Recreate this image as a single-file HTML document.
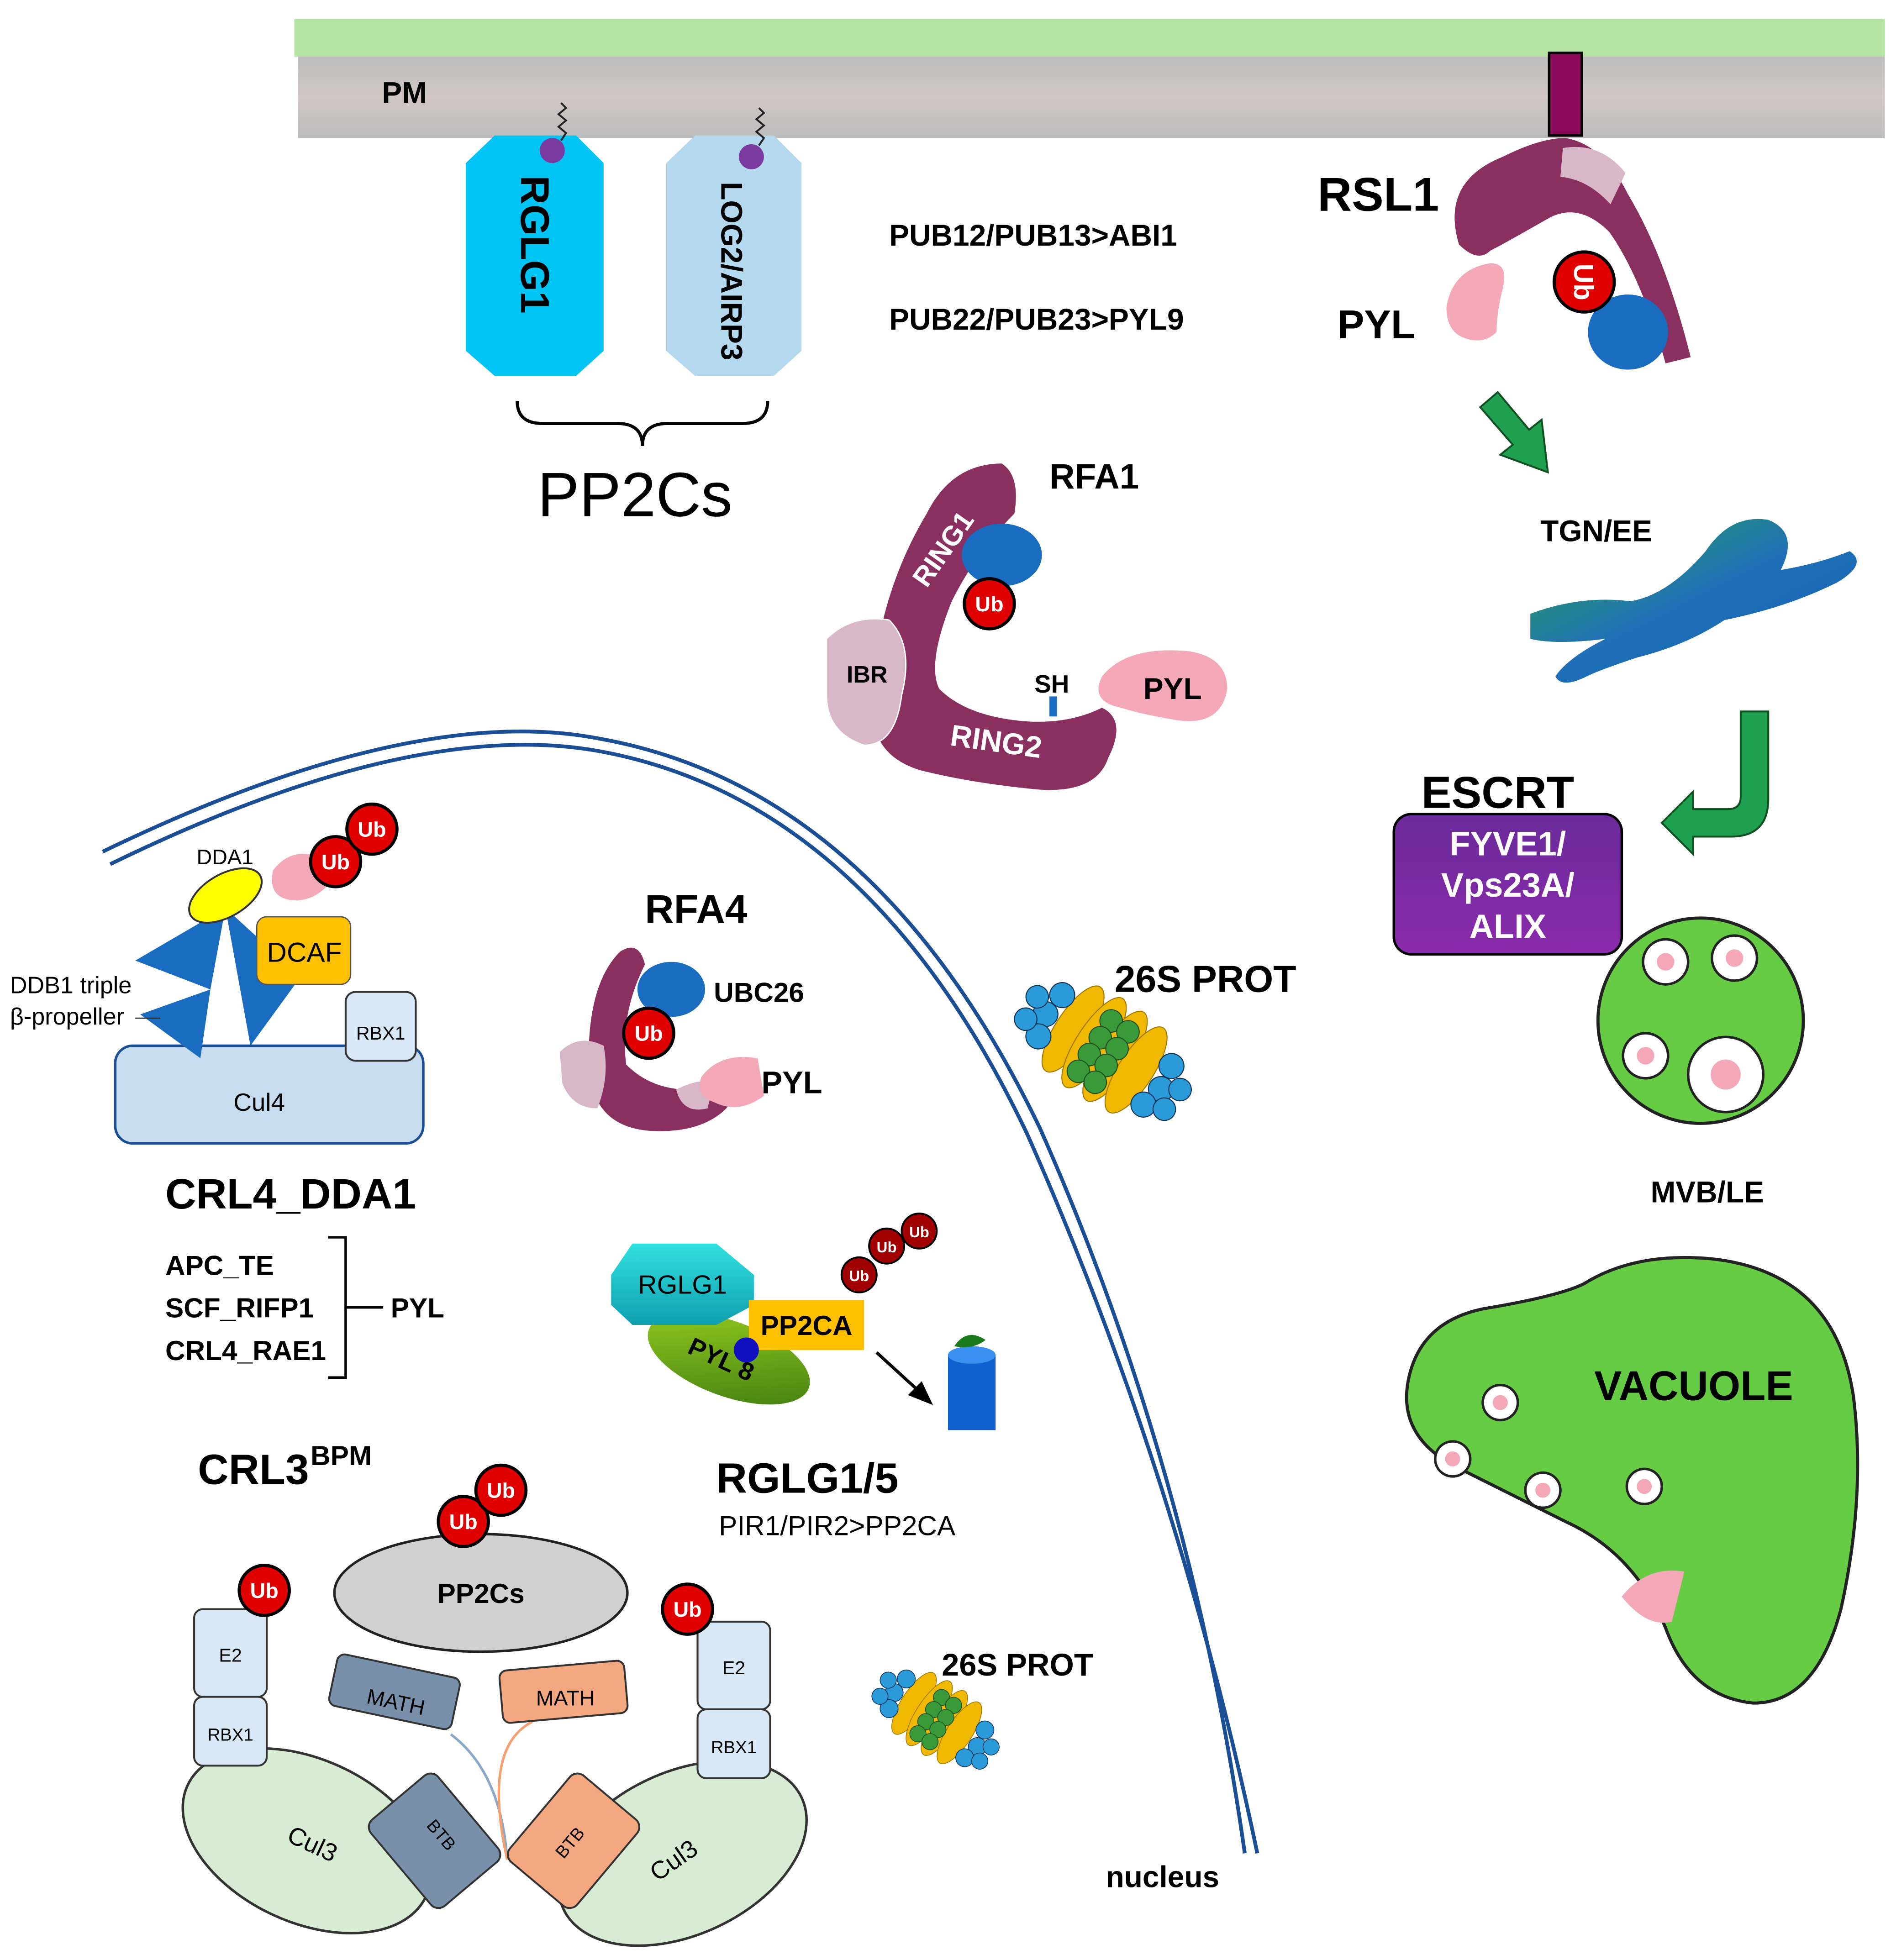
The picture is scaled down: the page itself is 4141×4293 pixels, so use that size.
<!DOCTYPE html>
<html><head><meta charset="utf-8"><style>
html,body{margin:0;padding:0;background:#fff}
svg{display:block}
text{font-family:"Liberation Sans",sans-serif}
</style></head><body>
<svg width="4141" height="4293" viewBox="0 0 1510 1565" xmlns="http://www.w3.org/2000/svg">
<defs>
<linearGradient id="gm" x1="0" y1="0" x2="0" y2="1"><stop offset="0" stop-color="#bdbdbd"/><stop offset="0.5" stop-color="#d2c6c6"/><stop offset="1" stop-color="#bcbcbc"/></linearGradient>
<linearGradient id="gg" x1="0" y1="0" x2="1" y2="1"><stop offset="0" stop-color="#2aa84a"/><stop offset="0.5" stop-color="#1f6fb8"/><stop offset="1" stop-color="#1560b0"/></linearGradient>
<linearGradient id="pyl8" x1="0" y1="0" x2="1" y2="1"><stop offset="0" stop-color="#9bd020"/><stop offset="1" stop-color="#3c7a10"/></linearGradient>
<linearGradient id="rg" x1="0" y1="0" x2="0" y2="1"><stop offset="0" stop-color="#30e0e0"/><stop offset="1" stop-color="#10a0b0"/></linearGradient>
<linearGradient id="esc" x1="0" y1="0" x2="0" y2="1"><stop offset="0" stop-color="#6a2a9a"/><stop offset="1" stop-color="#8a2aaa"/></linearGradient>
<g id="ub"><circle r="20" fill="#e00000" stroke="#000" stroke-width="2.5"/><text y="6" text-anchor="middle" font-size="17" font-weight="bold" fill="#fff">Ub</text></g>
<g id="ubd"><circle r="14" fill="#a00000" stroke="#000" stroke-width="1.5"/><text y="5" text-anchor="middle" font-size="12" font-weight="bold" fill="#fff">Ub</text></g>
<g id="prot">
<g fill="#f0b800" stroke="#a07800" stroke-width="0.8"><ellipse cx="-30" cy="0" rx="14" ry="40"/><ellipse cx="-10" cy="0" rx="14" ry="42"/><ellipse cx="10" cy="0" rx="14" ry="42"/><ellipse cx="30" cy="0" rx="14" ry="40"/></g>
<g fill="#3a9a3a" stroke="#205020" stroke-width="0.8"><circle cx="-8" cy="-22" r="9"/><circle cx="8" cy="-22" r="9"/><circle cx="-8" cy="-6" r="9"/><circle cx="8" cy="-6" r="9"/><circle cx="-8" cy="10" r="9"/><circle cx="8" cy="10" r="9"/><circle cx="-8" cy="26" r="9"/><circle cx="8" cy="26" r="9"/></g>
<g fill="#2a9ad8" stroke="#135" stroke-width="0.8"><circle cx="-52" cy="-18" r="10"/><circle cx="-55" cy="2" r="10"/><circle cx="-50" cy="20" r="10"/><circle cx="-68" cy="-6" r="9"/><circle cx="-66" cy="14" r="9"/><circle cx="52" cy="-18" r="10"/><circle cx="55" cy="2" r="10"/><circle cx="50" cy="20" r="10"/><circle cx="68" cy="-6" r="9"/><circle cx="66" cy="14" r="9"/></g>
</g>
</defs>

<rect x="235" y="15" width="1270" height="30" fill="#b5e3a4"/>
<rect x="238" y="45" width="1267" height="65" fill="url(#gm)"/>
<text x="305" y="82" font-size="24" font-weight="bold">PM</text>

<polygon points="395,108 460,108 482,130 482,280 460,300 395,300 372,280 372,130" fill="#00c4f4"/>
<polygon points="555,108 618,108 640,130 640,280 618,300 555,300 532,280 532,130" fill="#b4d8ee"/>
<text transform="translate(416,140) rotate(90)" font-size="32" font-weight="bold">RGLG1</text>
<text transform="translate(576,145) rotate(90)" font-size="24" font-weight="bold">LOG2/AIRP3</text>
<path d="M448,112 l4,-6 l-6,-5 l6,-5 l-6,-5 l6,-5 l-4,-4" fill="none" stroke="#222" stroke-width="1.5"/>
<path d="M606,116 l4,-6 l-6,-5 l6,-5 l-6,-5 l6,-5 l-4,-4" fill="none" stroke="#222" stroke-width="1.5"/>
<circle cx="441" cy="120" r="10" fill="#7a3aa0"/>
<circle cx="600" cy="125" r="10" fill="#7a3aa0"/>
<path d="M413,320 q0,18 20,18 h60 q20,0 20,18 q0,-18 20,-18 h60 q20,0 20,-18" fill="none" stroke="#000" stroke-width="2.5"/>
<text x="507" y="412" text-anchor="middle" font-size="50">PP2Cs</text>

<text x="710" y="196" font-size="24" font-weight="bold">PUB12/PUB13&gt;ABI1</text>
<text x="710" y="263" font-size="24" font-weight="bold">PUB22/PUB23&gt;PYL9</text>

<rect x="1237" y="42" width="26" height="66" fill="#8b0a5a" stroke="#000" stroke-width="2"/>
<path d="M1165,195 q-15,-50 35,-70 q30,-15 50,-15 q30,5 50,45 q30,50 50,130 l-20,5 q-20,-70 -45,-105 q-25,-25 -50,-10 q-35,20 -45,25 q-10,10 -25,-5 z" fill="#8a3060"/>
<path d="M1248,118 q30,-5 50,20 l-12,25 q-18,-20 -40,-22 z" fill="#d8b8c8"/>
<text x="1052" y="168" font-size="38" font-weight="bold">RSL1</text>
<text x="1068" y="270" font-size="32" font-weight="bold">PYL</text>
<path d="M1155,245 q5,-30 35,-35 q15,0 10,20 q-5,20 -5,35 q-10,10 -25,5 q-15,-5 -15,-25 z" fill="#f4a8b8"/>
<ellipse cx="1300" cy="265" rx="32" ry="30" fill="#1a6cc0"/>
<g transform="translate(1265,225) rotate(90)"><circle r="24" fill="#e00000" stroke="#000" stroke-width="2.5"/><text y="8" text-anchor="middle" font-size="22" font-weight="bold" fill="#fff">Ub</text></g>

<path d="M1182,325 l14,-12 l25,30 l10,-8 l5,42 l-38,-14 l10,-8 z" fill="#1fa050" stroke="#105020" stroke-width="1.5"/>
<text x="1230" y="432" font-size="24" font-weight="bold">TGN/EE</text>
<path d="M1222,490 q40,-15 80,-10 q30,-5 60,-40 q20,-30 50,-25 q25,10 10,40 q30,-5 55,-15 q15,10 -10,25 q-40,20 -90,30 q-30,20 -70,30 q-30,10 -40,15 q-20,10 -25,0 q10,-15 40,-30 q-40,5 -60,0 z" fill="url(#gg)"/>
<path d="M1390,568 h22 v70 q0,30 -30,30 h-30 v14 l-25,-25 l25,-25 v14 h28 q10,0 10,-10 z" fill="#1fa050" stroke="#105020" stroke-width="1.5"/>

<text x="1135" y="645" font-size="36" font-weight="bold">ESCRT</text>
<rect x="1113" y="650" width="182" height="112" rx="14" fill="url(#esc)" stroke="#000" stroke-width="2"/>
<text x="1204" y="683" text-anchor="middle" font-size="27" font-weight="bold" fill="#fff">FYVE1/</text>
<text x="1204" y="716" text-anchor="middle" font-size="27" font-weight="bold" fill="#fff">Vps23A/</text>
<text x="1204" y="749" text-anchor="middle" font-size="27" font-weight="bold" fill="#fff">ALIX</text>

<circle cx="1358" cy="815" r="82" fill="#66cc44" stroke="#222" stroke-width="2.5"/>
<circle cx="1330" cy="768" r="18" fill="#fff" stroke="#222" stroke-width="2"/>
<circle cx="1385" cy="765" r="18" fill="#fff" stroke="#222" stroke-width="2"/>
<circle cx="1314" cy="843" r="18" fill="#fff" stroke="#222" stroke-width="2"/>
<circle cx="1378" cy="858" r="30" fill="#fff" stroke="#222" stroke-width="2"/>
<circle cx="1330" cy="768" r="7" fill="#f4a8b8"/><circle cx="1385" cy="765" r="7" fill="#f4a8b8"/><circle cx="1314" cy="843" r="7" fill="#f4a8b8"/><circle cx="1378" cy="858" r="12" fill="#f4a8b8"/>
<text x="1318" y="960" font-size="24" font-weight="bold">MVB/LE</text>

<path d="M1125,1100 q10,-45 60,-55 q60,-10 80,-20 q40,-25 100,-20 q100,10 115,110 q10,80 -10,170 q-20,75 -70,75 q-50,-5 -70,-60 q-25,-60 -80,-85 q-50,-25 -90,-45 q-45,-25 -35,-70 z" fill="#66cc44" stroke="#222" stroke-width="2.5"/>
<text x="1273" y="1118" font-size="33" font-weight="bold">VACUOLE</text>
<g fill="#fff" stroke="#222" stroke-width="2"><circle cx="1198" cy="1120" r="14"/><circle cx="1160" cy="1165" r="14"/><circle cx="1232" cy="1190" r="14"/><circle cx="1313" cy="1187" r="14"/></g>
<g fill="#f4a8b8"><circle cx="1198" cy="1120" r="6"/><circle cx="1160" cy="1165" r="6"/><circle cx="1232" cy="1190" r="6"/><circle cx="1313" cy="1187" r="6"/>
<path d="M1295,1275 q20,-25 50,-20 l-10,40 q-20,5 -40,-20 z"/></g>

<path d="M700,520 q10,-60 40,-110 q20,-40 60,-40 q15,10 10,40 q-30,30 -50,70 q-20,50 -10,70 q20,20 60,25 q40,5 70,-10 q20,10 5,40 q-10,30 -60,25 q-50,-5 -90,-15 q-50,-15 -35,-75 z" fill="#8a3060"/>
<path d="M660,510 q20,-20 50,-15 q20,20 10,60 q-5,40 -30,40 q-30,-10 -30,-40 z" fill="#d8b8c8" stroke="#fff" stroke-width="1"/>
<text x="676" y="545" font-size="19" font-weight="bold">IBR</text>
<text transform="translate(740,470) rotate(-55)" font-size="22" font-weight="bold" fill="#fff">RING1</text>
<text transform="translate(758,595) rotate(8)" font-size="24" font-weight="bold" fill="#fff">RING2</text>
<text x="826" y="553" font-size="20" font-weight="bold">SH</text>
<rect x="838" y="556" width="6" height="16" fill="#1a6cc0"/>
<ellipse cx="800" cy="443" rx="32" ry="25" fill="#1a6cc0"/>
<g transform="translate(790,482)"><use href="#ub"/></g>
<path d="M880,540 q20,-25 70,-20 q30,5 30,30 q-5,30 -40,25 q-30,-5 -45,-10 q-25,-5 -15,-25 z" fill="#f4a8b8"/>
<text x="913" y="558" font-size="24" font-weight="bold">PYL</text>
<text x="838" y="390" font-size="28" font-weight="bold">RFA1</text>

<path d="M82,680 Q330,560 480,590 Q700,630 830,900 Q950,1170 994,1480" fill="none" stroke="#1a4f96" stroke-width="3"/>
<path d="M88,690 Q330,572 480,600 Q694,640 820,905 Q940,1175 1004,1480" fill="none" stroke="#1a4f96" stroke-width="3"/>
<text x="883" y="1507" font-size="24" font-weight="bold">nucleus</text>

<rect x="92" y="835" width="246" height="78" rx="14" fill="#c8dcf0" stroke="#1a4f96" stroke-width="2"/>
<text x="207" y="887" text-anchor="middle" font-size="20">Cul4</text>
<rect x="276" y="792" width="56" height="55" rx="8" fill="#d8e8f6" stroke="#333" stroke-width="1.5"/>
<text x="304" y="830" text-anchor="middle" font-size="15">RBX1</text>
<polygon points="108,767 180,725 168,790" fill="#1a6cc0"/>
<polygon points="180,725 240,780 200,835" fill="#1a6cc0"/>
<polygon points="112,810 168,790 160,845" fill="#1a6cc0"/>
<ellipse cx="180" cy="715" rx="32" ry="17" transform="rotate(-30 180 715)" fill="#ffff00" stroke="#333" stroke-width="1.5"/>
<text x="157" y="690" font-size="17">DDA1</text>
<rect x="205" y="732" width="75" height="54" rx="8" fill="#ffc000" stroke="#555" stroke-width="1"/>
<text x="243" y="768" text-anchor="middle" font-size="22">DCAF</text>
<path d="M218,695 q15,-20 40,-10 l10,12 q-10,20 -30,22 q-25,0 -20,-24 z" fill="#f4a8b8"/>
<g transform="translate(268,688)"><use href="#ub"/></g>
<g transform="translate(297,662)"><use href="#ub"/></g>
<text x="8" y="793" font-size="19">DDB1 triple</text>
<text x="8" y="818" font-size="19">β-propeller</text>
<line x1="108" y1="813" x2="128" y2="813" stroke="#333" stroke-width="1"/>
<text x="132" y="965" font-size="34" font-weight="bold">CRL4_DDA1</text>
<text x="132" y="1018" font-size="22" font-weight="bold">APC_TE</text>
<text x="132" y="1052" font-size="22" font-weight="bold">SCF_RIFP1</text>
<text x="132" y="1086" font-size="22" font-weight="bold">CRL4_RAE1</text>
<path d="M262,988 h14 v112 h-14 M276,1044 h30" fill="none" stroke="#000" stroke-width="2"/>
<text x="312" y="1052" font-size="22" font-weight="bold">PYL</text>

<text x="515" y="737" font-size="32" font-weight="bold">RFA4</text>
<path d="M470,845 q0,-60 25,-85 q15,-10 20,10 q-20,40 -15,80 q20,20 50,20 q20,0 30,-10 q15,5 0,25 q-20,20 -60,18 q-50,-3 -50,-58 z" fill="#8a3060"/>
<path d="M447,840 q15,-15 35,-5 q5,25 -5,50 q-20,0 -28,-20 z" fill="#d8b8c8"/>
<path d="M540,870 q20,-10 30,-5 l-5,20 q-20,5 -25,-15 z" fill="#d8b8c8"/>
<ellipse cx="536" cy="790" rx="27" ry="22" fill="#1a6cc0"/>
<g transform="translate(518,825)"><use href="#ub"/></g>
<text x="570" y="800" font-size="22" font-weight="bold">UBC26</text>
<path d="M560,860 q15,-20 45,-15 l5,30 q-20,15 -40,5 q-15,-5 -10,-20 z" fill="#f4a8b8"/>
<text x="608" y="873" font-size="25" font-weight="bold">PYL</text>

<g transform="translate(882,838) rotate(33)"><use href="#prot"/></g>
<text x="890" y="792" font-size="30" font-weight="bold">26S PROT</text>

<ellipse cx="582" cy="1085" rx="68" ry="30" transform="rotate(20 582 1085)" fill="url(#pyl8)"/>
<polygon points="505,993 572,993 602,1018 602,1042 572,1058 505,1058 488,1042 488,1018" fill="url(#rg)"/>
<text x="545" y="1033" text-anchor="middle" font-size="21">RGLG1</text>
<rect x="598" y="1038" width="92" height="40" fill="#ffc000"/>
<text x="644" y="1066" text-anchor="middle" font-size="22" font-weight="bold">PP2CA</text>
<circle cx="596" cy="1078" r="10" fill="#1010c0"/>
<text transform="translate(548,1080) rotate(25)" font-size="20" font-weight="bold">PYL 8</text>
<g transform="translate(686,1018)"><use href="#ubd"/></g>
<g transform="translate(708,995)"><use href="#ubd"/></g>
<g transform="translate(734,983)"><use href="#ubd"/></g>
<line x1="700" y1="1080" x2="735" y2="1112" stroke="#000" stroke-width="2.5"/>
<polygon points="745,1122 725,1114 736,1103" fill="#000"/>
<rect x="757" y="1082" width="38" height="60" fill="#1060d0"/>
<ellipse cx="776" cy="1082" rx="19" ry="7" fill="#3a90f0"/>
<path d="M762,1075 q10,-15 25,-5 q-10,8 -25,5 z" fill="#1a7a1a"/>
<text x="572" y="1192" font-size="34" font-weight="bold">RGLG1/5</text>
<text x="574" y="1226" font-size="22">PIR1/PIR2&gt;PP2CA</text>

<g transform="translate(748,1372) rotate(33) scale(0.72)"><use href="#prot"/></g>
<text x="752" y="1338" font-size="25" font-weight="bold">26S PROT</text>

<text x="158" y="1185" font-size="34" font-weight="bold">CRL3</text>
<text x="248" y="1170" font-size="22" font-weight="bold">BPM</text>
<ellipse cx="384" cy="1272" rx="117" ry="47" fill="#d0d0d0" stroke="#222" stroke-width="2"/>
<text x="384" y="1280" text-anchor="middle" font-size="22" font-weight="bold">PP2Cs</text>
<g transform="translate(370,1215)"><use href="#ub"/></g>
<g transform="translate(400,1190)"><use href="#ub"/></g>
<ellipse cx="245" cy="1470" rx="105" ry="65" transform="rotate(25 245 1470)" fill="#d8ecd4" stroke="#333" stroke-width="2"/>
<ellipse cx="545" cy="1480" rx="105" ry="65" transform="rotate(-25 545 1480)" fill="#d8ecd4" stroke="#333" stroke-width="2"/>
<text transform="translate(228,1470) rotate(25)" font-size="20">Cul3</text>
<text transform="translate(525,1503) rotate(-35)" font-size="20">Cul3</text>
<path d="M360,1385 q40,30 45,100" fill="none" stroke="#8aa8c8" stroke-width="2"/>
<path d="M425,1375 q-40,20 -20,110" fill="none" stroke="#f4a070" stroke-width="2"/>
<rect x="265" y="1330" width="100" height="42" rx="6" transform="rotate(12 315 1351)" fill="#7890aa" stroke="#333" stroke-width="1.5"/>
<text transform="translate(292,1360) rotate(12)" font-size="17">MATH</text>
<rect x="400" y="1330" width="100" height="42" rx="6" transform="rotate(-5 450 1351)" fill="#f4a880" stroke="#333" stroke-width="1.5"/>
<text x="428" y="1362" font-size="17">MATH</text>
<rect x="312" y="1425" width="70" height="90" rx="8" transform="rotate(-40 347 1470)" fill="#7890aa" stroke="#333" stroke-width="1.5"/>
<text transform="translate(340,1458) rotate(50)" font-size="14">BTB</text>
<rect x="423" y="1425" width="70" height="90" rx="8" transform="rotate(40 458 1470)" fill="#f4a880" stroke="#333" stroke-width="1.5"/>
<text transform="translate(450,1485) rotate(-50)" font-size="14">BTB</text>
<rect x="155" y="1285" width="58" height="70" rx="7" fill="#d8e8f6" stroke="#333" stroke-width="1.5"/>
<text x="184" y="1327" text-anchor="middle" font-size="15">E2</text>
<rect x="155" y="1355" width="58" height="55" rx="7" fill="#d8e8f6" stroke="#333" stroke-width="1.5"/>
<text x="184" y="1390" text-anchor="middle" font-size="14">RBX1</text>
<g transform="translate(211,1270)"><use href="#ub"/></g>
<rect x="557" y="1295" width="58" height="70" rx="7" fill="#d8e8f6" stroke="#333" stroke-width="1.5"/>
<text x="586" y="1337" text-anchor="middle" font-size="15">E2</text>
<rect x="557" y="1365" width="58" height="55" rx="7" fill="#d8e8f6" stroke="#333" stroke-width="1.5"/>
<text x="586" y="1400" text-anchor="middle" font-size="14">RBX1</text>
<g transform="translate(549,1285)"><use href="#ub"/></g>
</svg>
</body></html>
